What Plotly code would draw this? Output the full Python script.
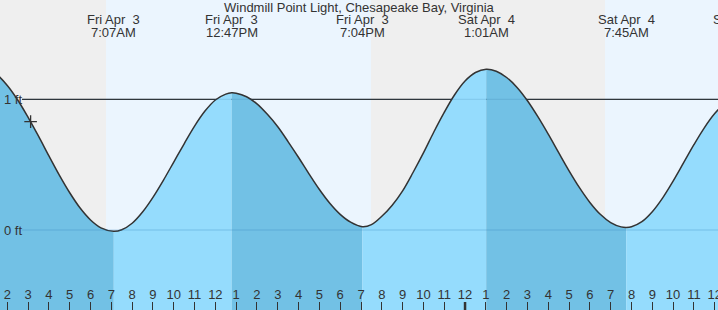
import plotly.graph_objects as go

# ---- data ----
# hours counted from Fri Apr 3, 00:00
tide_hours = [1.0, 1.5, 2.0, 2.5, 3.0, 3.5, 4.0, 4.5, 5.0, 5.5, 6.0, 6.5, 7.117,
              7.5, 8.0, 8.5, 9.0, 9.5, 10.0, 10.5, 11.0, 11.5, 12.0, 12.5, 12.783,
              13.0, 13.5, 14.0, 14.5, 15.0, 15.5, 16.0, 16.5, 17.0, 17.5, 18.0, 18.5, 19.067,
              19.5, 20.0, 20.5, 21.0, 21.5, 22.0, 22.5, 23.0, 23.5, 24.0, 24.5, 25.017,
              25.5, 26.0, 26.5, 27.0, 27.5, 28.0, 28.5, 29.0, 29.5, 30.0, 30.5, 31.0, 31.5, 31.75,
              32.0, 32.5, 33.0, 33.5, 34.0, 34.5, 35.0, 35.5, 36.0, 36.5, 37.0, 37.3]
tide_feet = [1.242, 1.190, 1.106, 0.995, 0.862, 0.718, 0.567, 0.420, 0.285, 0.168, 0.077, 0.017, -0.01,
             0.002, 0.052, 0.138, 0.250, 0.380, 0.520, 0.660, 0.795, 0.910, 0.995, 1.040, 1.05,
             1.047, 1.020, 0.965, 0.885, 0.790, 0.675, 0.555, 0.430, 0.310, 0.205, 0.120, 0.060, 0.025,
             0.041, 0.105, 0.190, 0.300, 0.440, 0.590, 0.750, 0.900, 1.035, 1.140, 1.205, 1.23,
             1.215, 1.167, 1.091, 0.989, 0.867, 0.733, 0.592, 0.453, 0.324, 0.211, 0.120, 0.057, 0.024, 0.02,
             0.025, 0.064, 0.140, 0.246, 0.374, 0.513, 0.653, 0.782, 0.891, 0.970, 1.013, 1.02]

extreme_hours = [7.117, 12.783, 19.067, 25.017, 31.75, 37.3]
extreme_days = ["Fri Apr  3", "Fri Apr  3", "Fri Apr  3", "Sat Apr  4", "Sat Apr  4", "Sat Apr  4"]
extreme_clock = ["7:07AM", "12:47PM", "7:04PM", "1:01AM", "7:45AM", "1:18PM"]

sun_hours = [6.744, 19.48, 30.727]          # sunrise, sunset, sunrise
now_hour = [3.12]
now_feet = [0.829]

tick_hours = list(range(2, 37))
tick_labels = ["2", "3", "4", "5", "6", "7", "8", "9", "10", "11", "12",
               "1", "2", "3", "4", "5", "6", "7", "8", "9", "10", "11", "12",
               "1", "2", "3", "4", "5", "6", "7", "8", "9", "10", "11", "12"]
midnight_hour = 24

level_feet = [1, 0]
level_labels = ["1 ft", "0 ft"]

title_text = "Windmill Point Light, Chesapeake Bay, Virginia"

# ---- styling ----
X_RANGE = [1.649, 36.158]
Y_RANGE = [-0.612, 1.760]
Y_FLOOR = -0.8
NIGHT = "#efefef"
DAY = "#ebf5fe"
FALL = "#72c1e5"
RISE = "#95dcfd"
INK = "#333333"
FONT = "Liberation Sans, Arial, sans-serif"
W, H = 718, 310

fig = go.Figure()

# water fill, one piece per interval between extremes
bounds = [tide_hours[0]] + [t for t in extreme_hours if tide_hours[0] < t < tide_hours[-1]] + [tide_hours[-1]]
for a, b in zip(bounds[:-1], bounds[1:]):
    xs = [t for t in tide_hours if a <= t <= b]
    ys = [v for t, v in zip(tide_hours, tide_feet) if a <= t <= b]
    color = FALL if ys[0] > ys[-1] else RISE
    fig.add_trace(go.Scatter(x=[a, b], y=[Y_FLOOR, Y_FLOOR], mode="lines",
                             line=dict(width=0), hoverinfo="skip", showlegend=False))
    fig.add_trace(go.Scatter(x=xs, y=ys, mode="lines", fill="tonexty", fillcolor=color,
                             line=dict(width=0, shape="spline"), hoverinfo="skip",
                             showlegend=False))

# tide curve
fig.add_trace(go.Scatter(x=tide_hours, y=tide_feet, mode="lines",
                         line=dict(color=INK, width=1.5, shape="spline"),
                         showlegend=False, hoverinfo="skip"))
# current-time marker
fig.add_trace(go.Scatter(x=now_hour, y=now_feet, mode="markers",
                         marker=dict(symbol="cross-thin", size=9,
                                     line=dict(color=INK, width=1.3)),
                         showlegend=False, hoverinfo="skip"))

shapes = []
# night / day background bands
edges = [X_RANGE[0] - 5] + sun_hours + [X_RANGE[1] + 5]
for i, (a, b) in enumerate(zip(edges[:-1], edges[1:])):
    shapes.append(dict(type="rect", xref="x", yref="paper", x0=a, x1=b, y0=0, y1=1,
                       fillcolor=NIGHT if i % 2 == 0 else DAY, line=dict(width=0),
                       layer="below"))
# 1 ft reference line (dark over sky, faint over water)
shapes.append(dict(type="line", xref="paper", yref="y", x0=22 / W, x1=1,
                   y0=level_feet[0], y1=level_feet[0], line=dict(color=INK, width=1.3),
                   layer="below"))
shapes.append(dict(type="line", xref="paper", yref="y", x0=22 / W, x1=1,
                   y0=level_feet[0], y1=level_feet[0],
                   line=dict(color="rgba(20,80,130,0.12)", width=1.3), layer="above"))
# 0 ft line
shapes.append(dict(type="line", xref="paper", yref="y", x0=22 / W, x1=1,
                   y0=level_feet[1], y1=level_feet[1],
                   line=dict(color="rgba(40,120,180,0.30)", width=1.2), layer="above"))
# midnight tick
shapes.append(dict(type="line", xref="x", yref="paper", x0=midnight_hour, x1=midnight_hour,
                   y0=0, y1=8 / H, line=dict(color=INK, width=2.5), layer="above"))

annotations = []
annotations.append(dict(text=title_text, xref="paper", yref="paper", x=0.5, y=1 - 7.5 / H,
                        xanchor="center", yanchor="middle", showarrow=False,
                        font=dict(family=FONT, size=13, color=INK)))
span = X_RANGE[1] - X_RANGE[0]
for t, d, c in zip(extreme_hours, extreme_days, extreme_clock):
    px = (t - X_RANGE[0]) / span
    annotations.append(dict(text=d, xref="paper", yref="paper", x=px, y=1 - 19.5 / H,
                            xanchor="center", yanchor="middle", showarrow=False,
                            font=dict(family=FONT, size=13, color=INK)))
    annotations.append(dict(text=c, xref="paper", yref="paper", x=px, y=1 - 32 / H,
                            xanchor="center", yanchor="middle", showarrow=False,
                            font=dict(family=FONT, size=13, color=INK)))
for v, lab in zip(level_feet, level_labels):
    annotations.append(dict(text=lab, xref="paper", yref="y", x=0, y=v, xshift=2,
                            xanchor="left", yanchor="middle", showarrow=False,
                            font=dict(family=FONT, size=13, color=INK)))

fig.update_layout(
    width=W, height=H,
    margin=dict(l=0, r=0, t=0, b=0, pad=0, autoexpand=False),
    paper_bgcolor=NIGHT, plot_bgcolor=NIGHT,
    shapes=shapes, annotations=annotations,
    xaxis=dict(range=X_RANGE, showgrid=False, zeroline=False, showline=False,
               tickmode="array", tickvals=tick_hours, ticktext=tick_labels,
               ticks="inside", ticklen=8, tickwidth=1, tickcolor=INK,
               ticklabelposition="inside", ticklabeloverflow="allow",
               automargin=False,
               tickfont=dict(family=FONT, size=13, color=INK), fixedrange=True),
    yaxis=dict(range=Y_RANGE, visible=False, fixedrange=True),
    showlegend=False,
)

fig.write_html("out.html", config={"displayModeBar": False})
